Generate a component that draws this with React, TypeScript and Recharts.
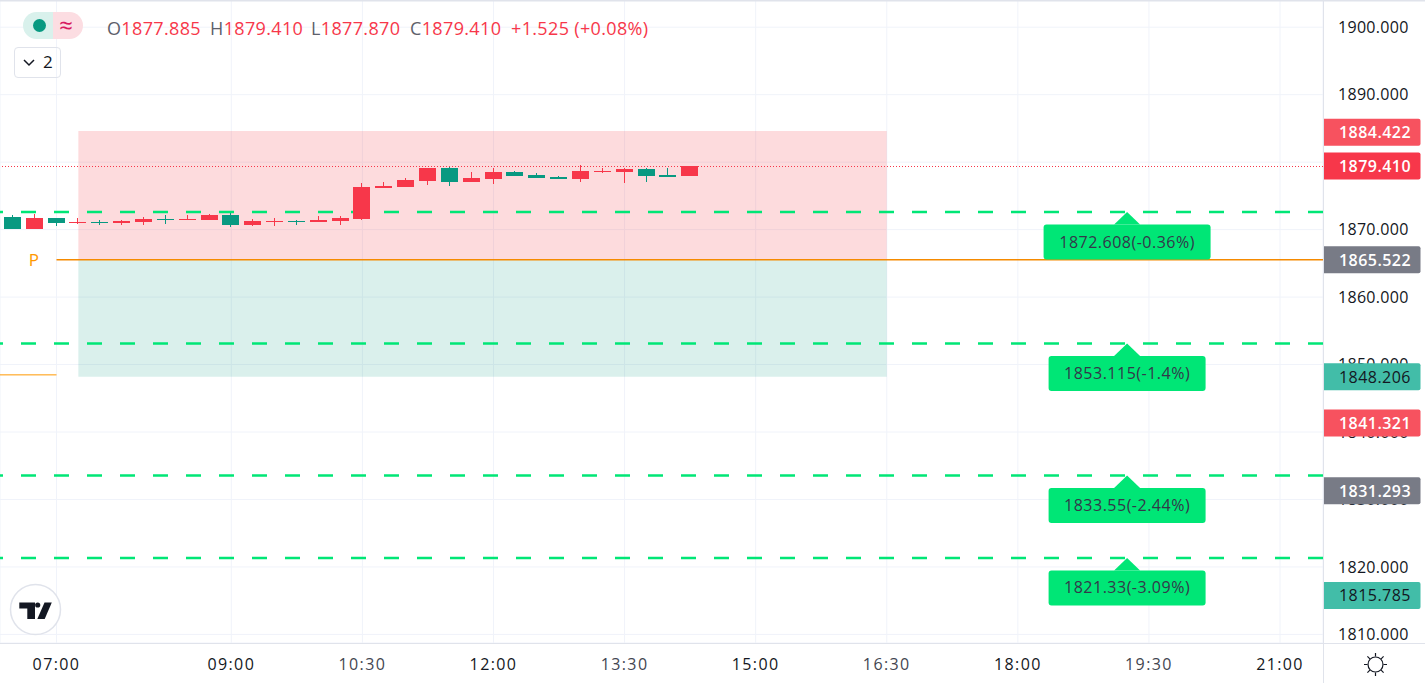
import { ComposedChart, XAxis, YAxis, CartesianGrid, Bar, ReferenceArea, ReferenceLine, ReferenceDot } from "recharts";

const FONT = "'Open Sans', sans-serif";
const UP = "#f7374a"; // this chart has red = up
const DOWN = "#089981";

// 15 minute bars, minutes since midnight
const times = [390, 405, 420, 435, 450, 465, 480, 495, 510, 525, 540, 555, 570, 585, 600, 615, 630, 645, 660, 675, 690, 705, 720, 735, 750, 765, 780, 795, 810, 825, 840, 855];
const opens = [1871.87, 1870.09, 1871.72, 1870.98, 1871.13, 1870.98, 1871.13, 1871.57, 1871.42, 1871.42, 1872.16, 1870.68, 1871.13, 1871.27, 1871.13, 1871.27, 1871.57, 1876.17, 1876.31, 1877.2, 1879.13, 1877.06, 1877.5, 1878.54, 1878.09, 1877.8, 1877.5, 1878.54, 1878.54, 1878.98, 1878.09, 1877.885];
const highs = [1872.16, 1872.31, 1871.72, 1871.72, 1871.42, 1871.42, 1871.87, 1872.16, 1872.16, 1872.31, 1872.46, 1871.57, 1871.72, 1871.42, 1872.02, 1872.02, 1876.91, 1877.06, 1877.65, 1879.13, 1879.28, 1878.54, 1879.13, 1878.69, 1878.39, 1877.94, 1879.57, 1879.13, 1879.13, 1879.13, 1879.13, 1879.41];
const lows = [1870.09, 1870.09, 1870.53, 1870.83, 1870.68, 1870.68, 1870.68, 1870.83, 1871.42, 1871.42, 1870.39, 1870.53, 1870.53, 1870.68, 1871.13, 1870.68, 1871.42, 1876.17, 1876.31, 1876.61, 1876.46, 1877.06, 1876.76, 1877.94, 1877.65, 1877.5, 1877.06, 1878.39, 1876.91, 1877.06, 1877.8, 1877.87];
const closes = [1870.09, 1871.72, 1870.98, 1871.13, 1870.98, 1871.27, 1871.57, 1871.42, 1871.57, 1872.16, 1870.68, 1871.27, 1871.27, 1871.13, 1871.42, 1871.72, 1876.31, 1876.46, 1877.35, 1879.13, 1877.06, 1877.65, 1878.54, 1877.94, 1877.65, 1877.5, 1878.69, 1878.69, 1878.98, 1877.94, 1877.8, 1879.41];

const xTicks = [420, 540, 630, 720, 810, 900, 990, 1080, 1170, 1260];
const xTickLabels = ["07:00", "09:00", "10:30", "12:00", "13:30", "15:00", "16:30", "18:00", "19:30", "21:00"];
const xMinorTicks = [630, 810, 990, 1170];
const yTicks = [1810, 1820, 1830, 1840, 1850, 1860, 1870, 1880, 1890, 1900];

const targets = [1872.608, 1853.115, 1833.55, 1821.33];
const targetLabels = ["1872.608(-0.36%)", "1853.115(-1.4%)", "1833.55(-2.44%)", "1821.33(-3.09%)"];
const targetBoxWidths = [167, 157, 157, 157];

const tagValues = [1884.422, 1879.41, 1865.522, 1848.206, 1841.321, 1831.293, 1815.785];
const tagColors = ["#f7525f", "#f7374a", "#787b86", "#42bda8", "#f7525f", "#787b86", "#42bda8"];
const tagTextColors = ["#fff", "#fff", "#fff", "#131722", "#fff", "#fff", "#131722"];

const headerLabels = ["O", "H", "L", "C"];
const headerValues = ["1877.885", "1879.410", "1877.870", "1879.410"];
const headerLefts = [107, 210, 311, 410];

const LAST = 1879.41;
const PIVOT = 1865.522;
const PREV_PIVOT = 1848.47;
const ZONE_TOP = 1884.6;
const ZONE_BOTTOM = 1848.206;
const ZONE_START = 435;
const ZONE_END = 990;
const X_MIN = 381.2;
const X_MAX = 1289.5;
const Y_MIN = 1808.73;
const Y_MAX = 1904.03;
const TARGET_X = 1155;
const DASH_START = 372.96; // just left of the plot, puts the dashes in phase

const candles = times.map((t, i) => ({ t, open: opens[i], high: highs[i], low: lows[i], close: closes[i], range: [lows[i], highs[i]] }));

function Candle(props: any) {
  const { x, y, width, height, payload } = props;
  const up = payload.close >= payload.open;
  const color = up ? UP : DOWN;
  const perUnit = height / (payload.high - payload.low);
  const top = Math.round(y + (payload.high - Math.max(payload.open, payload.close)) * perUnit);
  const bottom = Math.round(y + (payload.high - Math.min(payload.open, payload.close)) * perUnit);
  const left = Math.round(x);
  const wick = left + Math.floor(width / 2);
  return (
    <g shapeRendering="crispEdges">
      <rect x={wick} y={Math.round(y)} width={1} height={Math.max(1, Math.round(height))} fill={color} />
      <rect x={left} y={top} width={width} height={Math.max(1, bottom - top)} fill={color} />
    </g>
  );
}

function PriceTag(props: any) {
  const { cx, cy, color, textColor, value } = props;
  const w = 97.5;
  const h = 27;
  const t = cy - h / 2;
  return (
    <g>
      <path d={`M${cx} ${t} H${cx + w - 2} Q${cx + w} ${t} ${cx + w} ${t + 2} V${t + h - 2} Q${cx + w} ${t + h} ${cx + w - 2} ${t + h} H${cx} Z`} fill={color} />
      <text x={cx + 16} y={cy + 6} fill={textColor} fontSize={16} fontFamily={FONT} fontWeight={textColor === "#fff" ? 600 : 500} letterSpacing={0.45}>{value.toFixed(3)}</text>
    </g>
  );
}

function TargetLabel(props: any) {
  const { cx, cy, text, boxWidth } = props;
  const top = cy + 12.5;
  return (
    <g>
      <path d={`M${cx} ${cy} L${cx + 13} ${top} H${cx - 13} Z`} fill="#00e676" />
      <rect x={cx - boxWidth / 2} y={top} width={boxWidth} height={35} rx={3} fill="#00e676" />
      <text x={cx} y={top + 23} textAnchor="middle" fill="#33384a" fontSize={16} fontFamily={FONT} letterSpacing={0.5}>{text}</text>
    </g>
  );
}

function TimeTick(props: any) {
  const { x, y, payload } = props;
  const minor = xMinorTicks.includes(payload.value);
  return (
    <text x={x} y={y + 19} textAnchor="middle" fill={minor ? "#434651" : "#131722"} fontSize={16} fontWeight={minor ? 400 : 500} fontFamily={FONT} letterSpacing={1.4}>
      {xTickLabels[xTicks.indexOf(payload.value)]}
    </text>
  );
}

function PivotLetter(props: any) {
  return <text x={props.cx} y={props.cy + 6} textAnchor="middle" fill="#ff9800" fontSize={17} fontWeight={500} fontFamily={FONT}>P</text>;
}

function Header() {
  const base: any = { position: "absolute", top: 16, fontSize: 18, lineHeight: "24px", whiteSpace: "nowrap", letterSpacing: 0.35 };
  return (
    <>
      <div style={{ position: "absolute", left: 23, top: 12, width: 30, height: 27, background: "#d9f1ec", borderRadius: "14px 0 0 14px" }} />
      <div style={{ position: "absolute", left: 53, top: 12, width: 30, height: 27, background: "#fcdde2", borderRadius: "0 14px 14px 0" }} />
      <div style={{ position: "absolute", left: 33, top: 19, width: 13, height: 13, background: DOWN, borderRadius: "50%" }} />
      <div style={{ position: "absolute", left: 53, top: 10, width: 26, textAlign: "center", fontSize: 24, lineHeight: "30px", color: "#d81b60" }}>≈</div>
      {headerLabels.map((l, i) => (
        <div key={l} style={{ ...base, left: headerLefts[i], color: "#5d606b" }}>
          {l}
          <span style={{ color: UP }}>{headerValues[i]}</span>
        </div>
      ))}
      <div style={{ ...base, left: 511, color: UP }}>+1.525 (+0.08%)</div>
      <div style={{ position: "absolute", left: 14, top: 47, width: 45, height: 29, border: "1px solid #e0e3eb", borderRadius: 4 }} />
      <div style={{ position: "absolute", left: 43, top: 50, fontSize: 17, lineHeight: "24px", color: "#131722" }}>2</div>
    </>
  );
}

function Icons() {
  return (
    <svg width={1425} height={683} style={{ position: "absolute", left: 0, top: 0, pointerEvents: "none" }}>
      <path d="M24 60 L29 65 L34 60" fill="none" stroke="#131722" strokeWidth={1.5} />
      <line x1={0} x2={1425} y1={0.5} y2={0.5} stroke="#e0e3eb" strokeWidth={2} />
      <line x1={1323.5} x2={1323.5} y1={0} y2={683} stroke="#e0e3eb" />
      <line x1={0} x2={1425} y1={643.5} y2={643.5} stroke="#e0e3eb" />
      <circle cx={35.5} cy={609.5} r={25} fill="#fff" stroke="#e0e3eb" strokeWidth={1.5} />
      <path d="M19.3 602.5 H35 V619 H27.3 V608.5 H19.3 Z" fill="#131722" />
      <circle cx={37.7} cy={605} r={2.6} fill="#131722" />
      <path d="M44.5 602.5 H51.8 L44.7 619 H37.3 Z" fill="#131722" />
      <g stroke="#131722" strokeWidth={1.2} fill="none">
        <circle cx={1375.5} cy={664.5} r={7.5} />
        <path d="M1375.5 653 V656.5 M1375.5 672.5 V676 M1364 664.5 H1367.5 M1383.5 664.5 H1387 M1367.4 656.4 L1369.9 658.9 M1381.1 670.1 L1383.6 672.6 M1367.4 672.6 L1369.9 670.1 M1381.1 658.9 L1383.6 656.4" />
      </g>
    </svg>
  );
}

// candles go over the dashed lines and tags over the axis labels,
// so both get their own chart on top with the same scales
function TopLayer() {
  return (
    <div style={{ position: "absolute", left: 0, top: 0 }}>
      <ComposedChart width={1425} height={683} data={candles} margin={{ top: 0, right: 102, bottom: 40, left: 0 }}>
        <XAxis dataKey="t" type="number" domain={[X_MIN, X_MAX]} allowDataOverflow hide />
        <YAxis type="number" domain={[Y_MIN, Y_MAX]} allowDataOverflow hide />
        <Bar dataKey="range" barSize={17} shape={Candle} isAnimationActive={false} />
        {tagValues.map((v, i) => (
          <ReferenceDot key={v} x={X_MAX} y={v} r={0} ifOverflow="visible" shape={(p: any) => <PriceTag {...p} value={v} color={tagColors[i]} textColor={tagTextColors[i]} />} />
        ))}
      </ComposedChart>
    </div>
  );
}

export default function App() {
  return (
    <div style={{ position: "absolute", left: 0, top: 0, width: 1425, height: 683, overflow: "hidden", background: "#fff", fontFamily: FONT }}>
      <ComposedChart width={1425} height={683} data={candles} margin={{ top: 0, right: 0, bottom: 0, left: 0 }}>
        <CartesianGrid stroke="#f0f3fa" />
        <XAxis dataKey="t" type="number" domain={[X_MIN, X_MAX]} allowDataOverflow ticks={xTicks} interval={0} height={40} tick={TimeTick} tickLine={false} axisLine={false} />
        <YAxis orientation="right" type="number" domain={[Y_MIN, Y_MAX]} allowDataOverflow ticks={yTicks} interval={0} width={102} axisLine={false} tickLine={false} tickSize={0} tickMargin={15} tick={{ fill: "#131722", fontSize: 16, fontFamily: FONT, letterSpacing: 0.3 }} tickFormatter={(v: number) => v.toFixed(3)} />
        <ReferenceArea x1={ZONE_START} x2={ZONE_END} y1={PIVOT} y2={ZONE_TOP} fill="#f23645" fillOpacity={0.18} stroke="none" />
        <ReferenceArea x1={ZONE_START} x2={ZONE_END} y1={ZONE_BOTTOM} y2={PIVOT} fill="#089981" fillOpacity={0.15} stroke="none" />
        {targets.map((v) => (
          <ReferenceLine key={v} segment={[{ x: DASH_START, y: v }, { x: X_MAX, y: v }]} ifOverflow="visible" stroke="#00e676" strokeWidth={2.6} strokeDasharray="15 18" />
        ))}
        <ReferenceLine segment={[{ x: 420, y: PIVOT }, { x: X_MAX, y: PIVOT }]} stroke="#f58a00" strokeWidth={1.5} />
        <ReferenceLine segment={[{ x: X_MIN, y: PREV_PIVOT }, { x: 420, y: PREV_PIVOT }]} stroke="#ff9800" strokeWidth={1} />
        <ReferenceLine y={LAST} stroke={UP} strokeWidth={1} strokeDasharray="1 2" shapeRendering="crispEdges" />
        <ReferenceDot x={404.5} y={PIVOT} r={0} shape={PivotLetter} ifOverflow="visible" />
        {targets.map((v, i) => (
          <ReferenceDot key={v} x={TARGET_X} y={v} r={0} ifOverflow="visible" shape={(p: any) => <TargetLabel {...p} text={targetLabels[i]} boxWidth={targetBoxWidths[i]} />} />
        ))}
      </ComposedChart>
      <TopLayer />
      <Icons />
      <Header />
    </div>
  );
}
